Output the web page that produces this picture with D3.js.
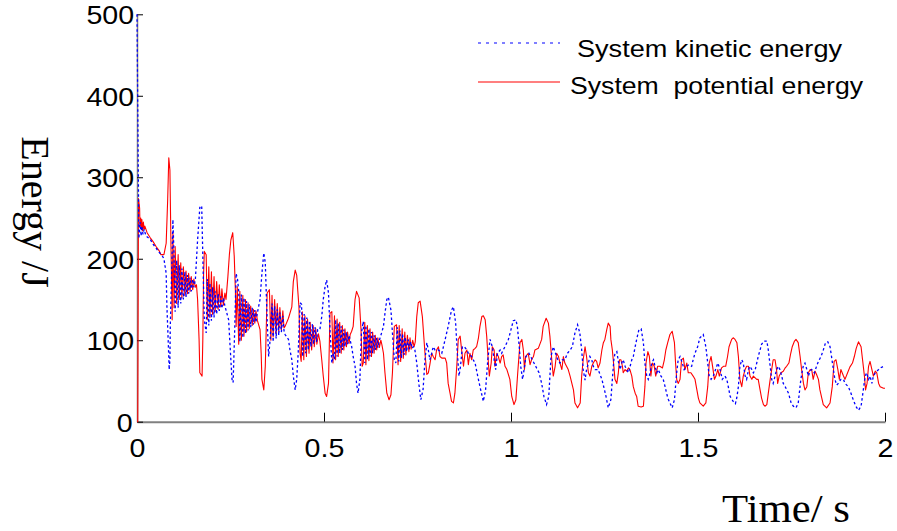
<!DOCTYPE html>
<html><head><meta charset="utf-8">
<script src="https://cdn.jsdelivr.net/npm/d3@7"></script>
<style>
body{margin:0;background:#fff;}
svg{display:block;}
.tick text{transform-box:fill-box;transform-origin:center;transform:scaleX(1.1);}
</style></head><body>
<svg id="chart" width="897" height="531"></svg>
<script>
const xTicks = [0, 0.5, 1, 1.5, 2];
const xTickLabels = ["0", "0.5", "1", "1.5", "2"];
const yTicks = [0, 100, 200, 300, 400, 500];
const yTickLabels = ["0", "100", "200", "300", "400", "500"];
const seriesNames = ["System kinetic energy", "System  potential energy"];
const xTitle = "Time/ s";
const yTitle = "Energy /J";

// [time (s), energy (J)]
const potentialEnergy = [
[0.000,0],[0.002,0],[0.004,274],[0.007,262],[0.008,240],[0.010,250],[0.012,236],[0.013,248],[0.015,234],[0.017,245],[0.019,236],[0.021,240],[0.027,232],[0.035,226],[0.043,221],[0.051,215],[0.059,210],[0.064,205],[0.072,205],[0.078,219],[0.082,272],[0.085,324],[0.088,309],[0.091,211],[0.094,125],
[0.096,232],[0.099,140],[0.102,215],[0.106,145],[0.110,205],[0.113,150],[0.117,195],[0.120,152],[0.124,190],[0.128,155],[0.131,185],[0.135,157],[0.138,182],[0.142,160],[0.145,178],[0.149,162],[0.152,175],[0.156,165],[0.159,168],[0.162,150],[0.166,101],[0.168,60],[0.174,56],[0.176,101],[0.178,180],[0.180,209],[0.185,205],
[0.188,125],[0.192,190],[0.195,128],[0.199,184],[0.202,132],[0.206,178],[0.209,135],[0.213,172],[0.217,138],[0.220,168],[0.224,141],[0.227,163],[0.231,143],[0.235,158],[0.238,150],[0.243,178],[0.247,205],[0.251,223],[0.256,232],[0.260,203],[0.263,162],[0.265,117],
[0.268,166],[0.272,95],[0.275,160],[0.279,100],[0.283,155],[0.286,105],[0.290,150],[0.293,110],[0.297,146],[0.300,114],[0.304,142],[0.308,118],[0.311,138],[0.315,121],[0.318,136],[0.322,124],[0.324,121],[0.329,113],[0.332,84],[0.334,52],[0.339,39],[0.343,68],[0.348,158],[0.354,162],
[0.358,100],[0.361,155],[0.364,104],[0.368,150],[0.372,108],[0.375,145],[0.379,111],[0.382,140],[0.386,113],[0.390,136],[0.393,115],[0.396,117],[0.405,127],[0.414,141],[0.418,172],[0.423,186],[0.427,180],[0.430,160],[0.433,141],[0.436,84],[0.439,74],
[0.442,135],[0.446,76],[0.449,130],[0.453,80],[0.456,126],[0.460,84],[0.463,122],[0.467,88],[0.471,118],[0.474,92],[0.478,114],[0.481,95],[0.485,108],[0.489,99],[0.494,76],[0.498,56],[0.503,35],[0.507,31],[0.512,47],[0.516,133],[0.521,135],
[0.524,72],[0.528,130],[0.531,76],[0.535,126],[0.538,80],[0.542,122],[0.546,84],[0.549,118],[0.553,88],[0.556,114],[0.560,92],[0.563,110],[0.567,96],[0.570,107],[0.574,111],[0.578,117],[0.583,150],[0.587,160],[0.594,152],[0.599,113],[0.602,68],[0.605,72],
[0.609,122],[0.612,70],[0.616,118],[0.620,75],[0.623,114],[0.627,80],[0.630,110],[0.634,84],[0.637,106],[0.641,88],[0.644,103],[0.648,91],[0.652,100],[0.655,94],[0.659,84],[0.663,60],[0.668,35],[0.674,27],[0.679,33],[0.683,60],[0.688,117],[0.694,119],
[0.698,70],[0.701,118],[0.705,74],[0.709,114],[0.712,78],[0.716,110],[0.719,82],[0.723,106],[0.727,86],[0.730,103],[0.733,89],[0.737,100],[0.741,92],[0.744,98],[0.748,129],[0.752,146],[0.757,148],[0.763,129],[0.770,84],[0.775,58],[0.779,60],[0.783,70],[0.788,84],[0.792,80],[0.797,76],[0.801,88],[0.806,92],[0.810,80],[0.815,78],[0.824,78],[0.828,72],[0.832,47],[0.837,35],[0.841,25],[0.846,23],[0.850,35],[0.855,68],[0.859,101],[0.864,105],[0.868,88],[0.873,68],[0.877,84],[0.882,88],[0.886,70],[0.890,84],[0.895,76],[0.899,88],[0.904,90],[0.908,92],[0.913,103],[0.917,117],[0.922,129],[0.926,130],[0.931,125],[0.935,105],[0.939,76],[0.942,56],[0.947,72],[0.950,92],[0.955,88],[0.957,68],[0.962,84],[0.966,80],[0.971,72],[0.975,80],[0.979,82],[0.984,68],[0.989,64],[0.997,52],[1.002,31],[1.008,21],[1.013,27],[1.018,60],[1.024,97],[1.029,101],[1.033,88],[1.036,64],[1.039,80],[1.046,84],[1.051,70],[1.055,76],[1.060,80],[1.064,88],[1.073,90],[1.082,101],[1.086,117],[1.094,127],[1.100,121],[1.104,105],[1.109,76],[1.113,56],[1.118,68],[1.122,84],[1.127,80],[1.131,72],[1.136,64],[1.140,80],[1.144,72],[1.153,64],[1.158,56],[1.167,39],[1.171,23],[1.178,17],[1.185,23],[1.189,56],[1.193,76],[1.198,92],[1.202,80],[1.207,60],[1.211,56],[1.216,68],[1.220,72],[1.225,76],[1.229,74],[1.233,66],[1.238,72],[1.243,88],[1.247,97],[1.251,101],[1.256,113],[1.260,121],[1.265,117],[1.267,101],[1.271,88],[1.275,68],[1.278,52],[1.283,47],[1.287,60],[1.290,76],[1.294,76],[1.298,68],[1.300,60],[1.305,64],[1.309,62],[1.314,66],[1.318,64],[1.323,56],[1.327,43],[1.332,35],[1.336,31],[1.340,19],[1.348,18],[1.354,19],[1.358,43],[1.361,72],[1.366,86],[1.370,80],[1.374,56],[1.378,72],[1.383,68],[1.387,56],[1.392,68],[1.398,68],[1.405,66],[1.410,76],[1.414,88],[1.419,97],[1.425,107],[1.431,111],[1.437,97],[1.440,72],[1.443,52],[1.447,47],[1.452,52],[1.456,76],[1.461,78],[1.465,64],[1.470,72],[1.474,60],[1.481,60],[1.487,56],[1.492,52],[1.497,39],[1.501,29],[1.505,23],[1.514,19],[1.521,23],[1.526,43],[1.530,72],[1.535,80],[1.539,68],[1.544,52],[1.548,56],[1.553,64],[1.557,56],[1.563,66],[1.568,68],[1.574,68],[1.579,80],[1.583,92],[1.590,101],[1.594,103],[1.599,101],[1.604,97],[1.608,80],[1.612,52],[1.617,43],[1.621,56],[1.626,64],[1.630,68],[1.635,68],[1.639,56],[1.644,52],[1.648,56],[1.657,52],[1.661,52],[1.666,39],[1.670,29],[1.675,21],[1.679,19],[1.684,21],[1.688,35],[1.693,52],[1.697,64],[1.701,76],[1.706,76],[1.710,64],[1.713,47],[1.717,56],[1.722,60],[1.728,62],[1.733,66],[1.737,68],[1.743,72],[1.748,84],[1.752,92],[1.758,99],[1.762,101],[1.768,97],[1.773,80],[1.777,64],[1.782,47],[1.786,39],[1.791,43],[1.795,60],[1.800,64],[1.804,64],[1.808,52],[1.813,62],[1.817,58],[1.822,52],[1.826,39],[1.831,29],[1.835,21],[1.844,17],[1.853,23],[1.859,43],[1.864,74],[1.869,76],[1.874,64],[1.878,52],[1.882,64],[1.889,56],[1.893,52],[1.900,60],[1.906,67],[1.913,72],[1.918,80],[1.923,90],[1.929,98],[1.936,92],[1.940,76],[1.945,56],[1.948,39],[1.952,47],[1.956,68],[1.960,74],[1.965,64],[1.969,56],[1.974,62],[1.978,60],[1.983,47],[1.987,43],[1.996,41],[2.000,41]
];

const kineticEnergy = [
[0.000,500],[0.003,330],[0.005,225],[0.008,245],[0.011,228],[0.013,240],[0.016,230],[0.019,236],[0.024,228],[0.035,224],[0.043,218],[0.051,213],[0.059,208],[0.067,204],[0.072,200],[0.078,182],[0.080,141],[0.084,92],[0.086,64],[0.088,76],[0.089,117],[0.093,191],[0.096,248],
[0.099,205],[0.102,135],[0.106,198],[0.110,140],[0.113,192],[0.117,145],[0.120,188],[0.124,150],[0.128,184],[0.131,153],[0.135,180],[0.138,157],[0.142,177],[0.145,160],[0.149,175],[0.152,165],[0.156,174],[0.162,223],[0.168,263],[0.173,265],[0.176,203],[0.180,125],[0.185,109],
[0.188,175],[0.192,118],[0.195,170],[0.199,124],[0.202,165],[0.206,128],[0.209,160],[0.213,132],[0.217,157],[0.220,136],[0.224,154],[0.227,139],[0.231,152],[0.235,142],[0.238,137],[0.245,125],[0.249,92],[0.254,52],[0.257,48],[0.261,109],[0.265,182],[0.269,174],
[0.272,160],[0.275,98],[0.279,156],[0.283,103],[0.286,152],[0.290,108],[0.293,148],[0.297,112],[0.300,144],[0.304,116],[0.308,140],[0.311,119],[0.315,137],[0.318,122],[0.322,134],[0.329,150],[0.334,182],[0.339,207],[0.343,195],[0.348,125],[0.352,80],[0.356,101],
[0.361,145],[0.364,98],[0.368,142],[0.372,102],[0.375,138],[0.379,106],[0.382,134],[0.386,110],[0.390,130],[0.393,112],[0.396,107],[0.405,101],[0.409,88],[0.414,76],[0.418,56],[0.423,39],[0.427,52],[0.431,84],[0.436,146],[0.440,144],
[0.443,80],[0.447,132],[0.451,84],[0.454,128],[0.458,88],[0.461,124],[0.465,92],[0.469,120],[0.472,95],[0.476,116],[0.480,98],[0.483,113],[0.489,113],[0.494,129],[0.498,150],[0.503,166],[0.507,174],[0.512,158],[0.516,113],[0.521,72],[0.525,84],
[0.528,76],[0.531,125],[0.535,80],[0.538,121],[0.542,84],[0.546,117],[0.549,88],[0.553,113],[0.556,92],[0.560,110],[0.563,95],[0.567,106],[0.574,92],[0.578,80],[0.583,68],[0.587,47],[0.591,35],[0.596,52],[0.600,109],[0.605,123],
[0.609,72],[0.612,118],[0.616,76],[0.620,114],[0.623,80],[0.627,110],[0.630,84],[0.634,106],[0.637,88],[0.641,103],[0.644,91],[0.648,100],[0.654,109],[0.659,117],[0.663,133],[0.668,150],[0.672,153],[0.679,137],[0.683,109],[0.688,76],[0.692,72],
[0.696,116],[0.700,74],[0.703,112],[0.707,78],[0.710,108],[0.714,82],[0.717,104],[0.721,86],[0.725,101],[0.728,89],[0.732,98],[0.735,90],[0.739,92],[0.743,88],[0.748,72],[0.754,45],[0.759,27],[0.765,40],[0.770,76],[0.775,97],[0.779,88],[0.783,76],[0.788,84],[0.792,92],[0.797,88],[0.806,88],[0.815,84],[0.824,101],[0.832,117],[0.841,137],[0.846,141],[0.852,121],[0.856,88],[0.861,56],[0.865,68],[0.870,92],[0.875,92],[0.882,88],[0.886,84],[0.895,80],[0.899,76],[0.904,72],[0.911,56],[0.917,43],[0.926,25],[0.932,39],[0.938,76],[0.944,101],[0.950,92],[0.955,76],[0.959,64],[0.964,84],[0.971,88],[0.975,84],[0.979,88],[0.984,92],[0.993,101],[1.000,113],[1.006,124],[1.013,125],[1.017,117],[1.022,92],[1.026,68],[1.031,52],[1.035,64],[1.040,80],[1.048,84],[1.057,76],[1.066,68],[1.075,60],[1.082,47],[1.088,31],[1.095,21],[1.101,31],[1.107,80],[1.113,92],[1.119,84],[1.125,76],[1.131,72],[1.137,76],[1.144,76],[1.151,84],[1.158,88],[1.164,92],[1.171,109],[1.178,119],[1.184,109],[1.189,88],[1.193,64],[1.198,51],[1.202,64],[1.207,72],[1.211,80],[1.216,76],[1.220,68],[1.225,64],[1.233,64],[1.243,52],[1.250,39],[1.254,31],[1.260,17],[1.267,27],[1.271,52],[1.275,76],[1.278,84],[1.283,86],[1.287,74],[1.292,64],[1.296,72],[1.300,76],[1.305,68],[1.309,64],[1.314,60],[1.323,76],[1.327,80],[1.332,92],[1.336,101],[1.342,113],[1.348,114],[1.354,97],[1.358,72],[1.363,56],[1.367,52],[1.372,60],[1.376,72],[1.381,76],[1.385,68],[1.390,60],[1.394,64],[1.401,56],[1.407,52],[1.412,43],[1.417,33],[1.421,27],[1.431,17],[1.437,27],[1.443,60],[1.447,76],[1.452,80],[1.458,72],[1.463,64],[1.470,68],[1.476,70],[1.483,68],[1.487,76],[1.492,84],[1.499,92],[1.505,103],[1.514,107],[1.521,92],[1.526,72],[1.530,56],[1.535,52],[1.541,56],[1.547,64],[1.553,72],[1.559,64],[1.565,52],[1.572,56],[1.577,52],[1.581,43],[1.586,31],[1.594,25],[1.600,22],[1.604,30],[1.608,43],[1.612,68],[1.617,76],[1.621,72],[1.626,56],[1.630,52],[1.635,64],[1.639,68],[1.644,64],[1.648,60],[1.653,64],[1.657,72],[1.661,80],[1.666,88],[1.670,95],[1.677,99],[1.684,99],[1.688,88],[1.693,68],[1.697,52],[1.701,47],[1.706,56],[1.710,64],[1.715,68],[1.719,64],[1.724,56],[1.728,47],[1.733,43],[1.742,35],[1.749,23],[1.755,19],[1.762,17],[1.768,23],[1.775,52],[1.782,70],[1.786,72],[1.791,64],[1.795,56],[1.800,62],[1.804,64],[1.811,60],[1.817,68],[1.822,74],[1.829,80],[1.835,88],[1.841,97],[1.847,98],[1.853,92],[1.857,80],[1.862,64],[1.866,52],[1.871,45],[1.875,47],[1.882,52],[1.889,52],[1.893,47],[1.902,43],[1.909,35],[1.915,27],[1.922,19],[1.929,14],[1.936,19],[1.942,39],[1.947,56],[1.951,60],[1.956,52],[1.960,56],[1.965,47],[1.969,56],[1.974,60],[1.978,62],[1.983,64],[1.987,66],[1.992,67],[1.996,68],[2.000,68]
];

const svg = d3.select("#chart");
const x = d3.scaleLinear().domain([0, 2]).range([137, 885]);
const y = d3.scaleLinear().domain([0, 500]).range([421.7, 14.3]);

const gx = svg.append("g").attr("transform", `translate(0,${y(0)})`)
  .call(d3.axisBottom(x).tickValues(xTicks).tickSizeInner(-9).tickSizeOuter(0)
    .tickFormat((d, i) => xTickLabels[i]));
gx.selectAll(".tick text").attr("y", 35).attr("dy", 0)
  .style("font-family", "'Liberation Sans', Arial, sans-serif").style("font-size", "26px").attr("fill", "#000");
gx.select(".domain").attr("stroke", "#808080").attr("stroke-width", 2);
gx.selectAll(".tick line").attr("stroke", "#000");

const gy = svg.append("g").attr("transform", `translate(${x(0)},0)`)
  .call(d3.axisLeft(y).tickValues(yTicks).tickSizeInner(-6).tickSizeOuter(0)
    .tickFormat((d, i) => yTickLabels[i]));
gy.selectAll(".tick text").attr("x", -5).attr("dy", "0.36em")
  .style("font-family", "'Liberation Sans', Arial, sans-serif").style("font-size", "26px").attr("fill", "#000");
gy.select(".domain").attr("stroke", "#808080").attr("stroke-width", 1.5);
gy.selectAll(".tick line").attr("stroke", "#000");

const line = d3.line().x(d => x(d[0])).y(d => y(d[1]));

svg.append("path").datum(potentialEnergy).attr("d", line)
  .attr("fill", "none").attr("stroke", "#ff0000").attr("stroke-width", 1.1).attr("stroke-linejoin", "round");
svg.append("path").datum(kineticEnergy).attr("d", line)
  .attr("fill", "none").attr("stroke", "#0000ff").attr("stroke-width", 1.3).attr("stroke-dasharray", "2.5,2.5");

// legend
const lg = svg.append("g");
lg.append("line").attr("x1", 478).attr("x2", 560).attr("y1", 43).attr("y2", 43)
  .attr("stroke", "#0000ff").attr("stroke-width", 1.2).attr("stroke-dasharray", "3,5");
lg.append("line").attr("x1", 478).attr("x2", 560).attr("y1", 82).attr("y2", 82)
  .attr("stroke", "#ff0000").attr("stroke-width", 1.2);
lg.append("text").attr("x", 577).attr("y", 57).text(seriesNames[0])
  .attr("textLength", 265).attr("lengthAdjust", "spacingAndGlyphs")
  .style("font-family", "'Liberation Sans', Arial, sans-serif").style("font-size", "24px").style("white-space", "pre");
lg.append("text").attr("x", 570).attr("y", 94).text(seriesNames[1])
  .attr("textLength", 293).attr("lengthAdjust", "spacingAndGlyphs")
  .style("font-family", "'Liberation Sans', Arial, sans-serif").style("font-size", "24px").style("white-space", "pre");

// axis titles
svg.append("text").attr("x", 722).attr("y", 522).text(xTitle)
  .attr("textLength", 128).attr("lengthAdjust", "spacingAndGlyphs")
  .style("font-family", "'Liberation Serif', 'Times New Roman', serif").style("font-size", "41px").style("white-space", "pre");
svg.append("text").attr("transform", "translate(22,212) rotate(90)").attr("text-anchor", "middle").text(yTitle)
  .style("font-family", "'Liberation Serif', 'Times New Roman', serif").style("font-size", "40px").style("white-space", "pre");
</script>
</body></html>
